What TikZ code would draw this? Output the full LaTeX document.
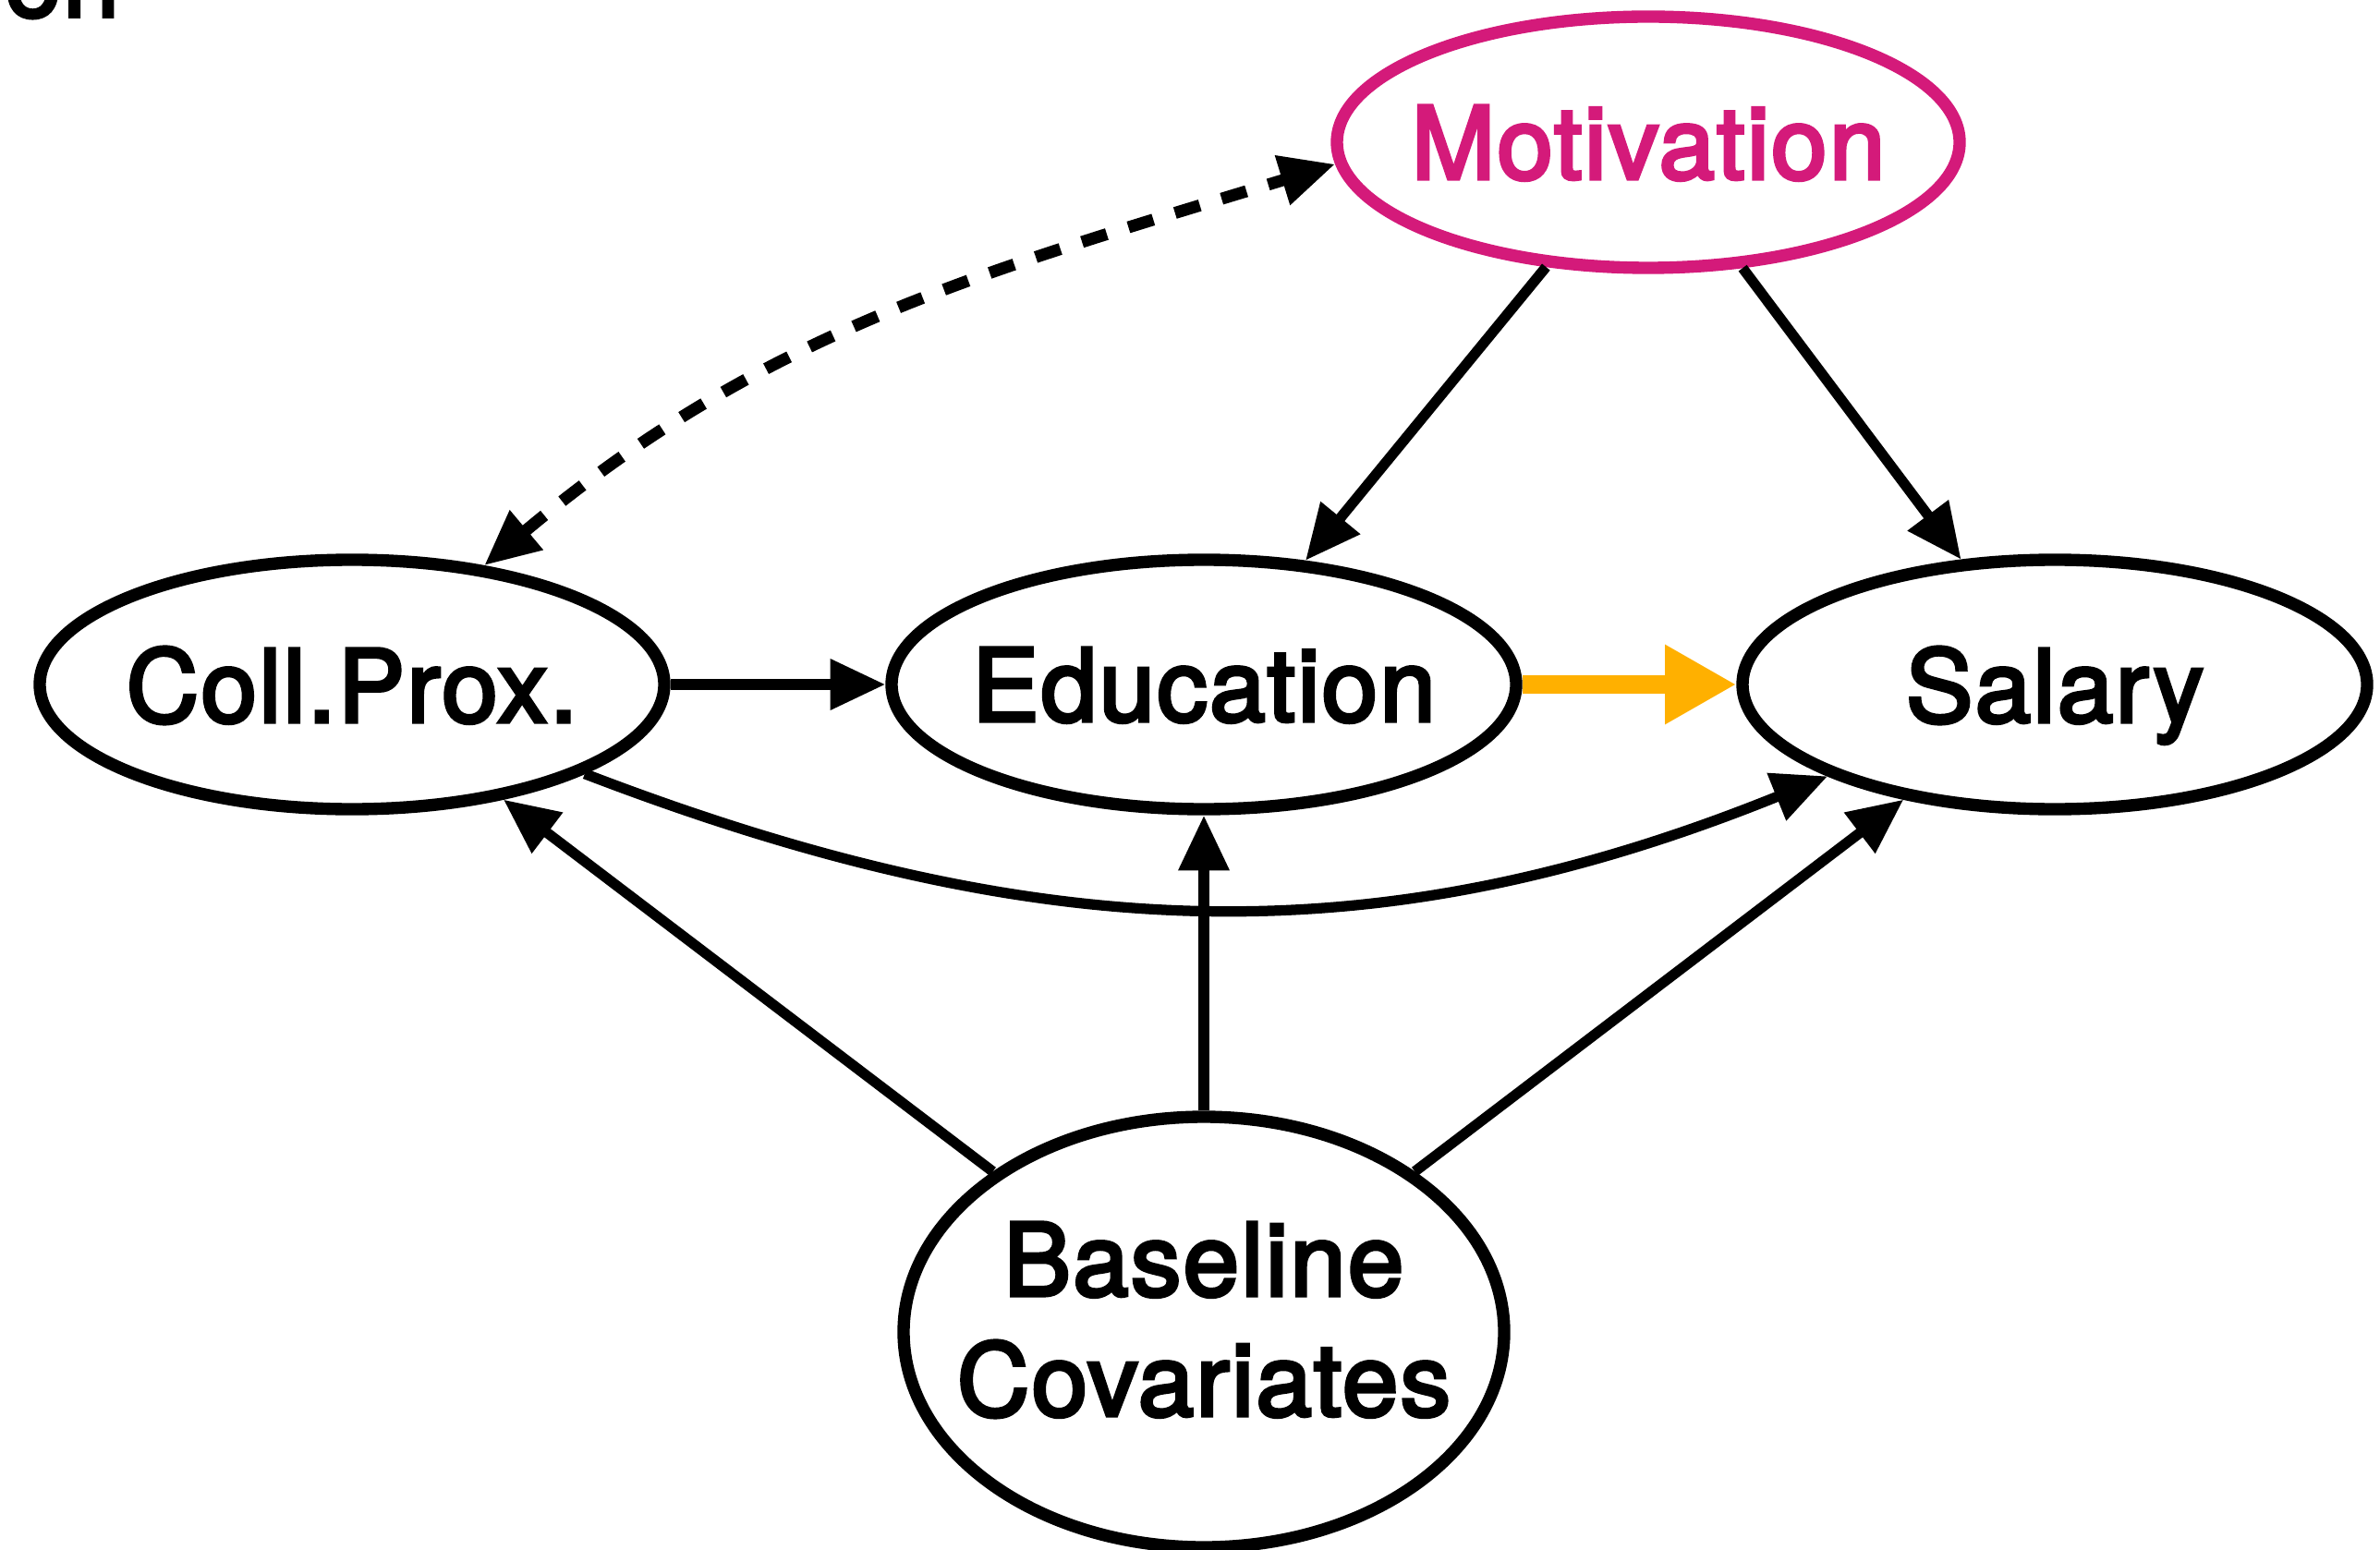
\documentclass[tikz,border=0pt]{standalone}
\usepackage{fontspec}
\newfontfamily\lblfont{TeX Gyre Heros}[FakeBold=3.5, LetterSpace=2]
\usetikzlibrary{arrows.meta, shapes.geometric, positioning}
\definecolor{motcol}{RGB}{212,26,122}
\definecolor{effcol}{RGB}{255,176,0}

\begin{document}
\begin{tikzpicture}[on grid, auto,
	var/.style={ellipse, draw, line width=3.8pt, inner ysep=0pt, inner xsep=-12pt,
		minimum width=6.76cm, minimum height=2.70cm, text depth=0pt,
		font=\lblfont\fontsize{31}{37}\selectfont},
	arr/.style={-{Triangle[length=17pt,width=15pt]}, line width=3.2pt},
	eff/.style={-{Triangle[length=22pt,width=23pt]}, line width=5.6pt, draw=effcol, fill=effcol}]
	\useasboundingbox (0,0) rectangle (25.76,-16.78);
	\node[anchor=base west, inner sep=0pt, font=\lblfont\fontsize{31}{37}\selectfont] (on) at (0.05,-0.18) {on};
	\node[var] (cp) at (3.81,-7.41) {Coll.Prox.};
	\node[var, right = 9.22cm of cp] (edu) {Education};
	\node[var, right = 9.21cm of edu] (sal) {Salary};
	\node[var, above right = 5.87cm and 4.81cm of edu, draw=motcol, text=motcol,
		minimum width=6.74cm, minimum height=2.72cm] (mot) {Motivation};
	\node[var, below = 7.01cm of edu, align=center, text depth=8pt,
		minimum width=6.50cm, minimum height=4.66cm] (base) {Baseline\\Covariates};

	\draw[arr, {Triangle[length=17pt,width=15pt]}-{Triangle[length=17pt,width=15pt]},
		line width=3.7pt, dash pattern=on 8pt off 7pt] (cp.42) to[out=40,in=197] (mot.184);
	\draw[arr] (mot) -- (edu);
	\draw[arr] (mot) -- (sal);
	\draw[arr] (cp) -- (edu);
	\draw[eff] (edu) -- (sal);
	\draw[arr] (cp) to[out=-21,in=-158] (sal);
	\draw[arr] (base) -- (cp);
	\draw[arr] (base) -- (edu);
	\draw[arr] (base) -- (sal);
\end{tikzpicture}
\end{document}
